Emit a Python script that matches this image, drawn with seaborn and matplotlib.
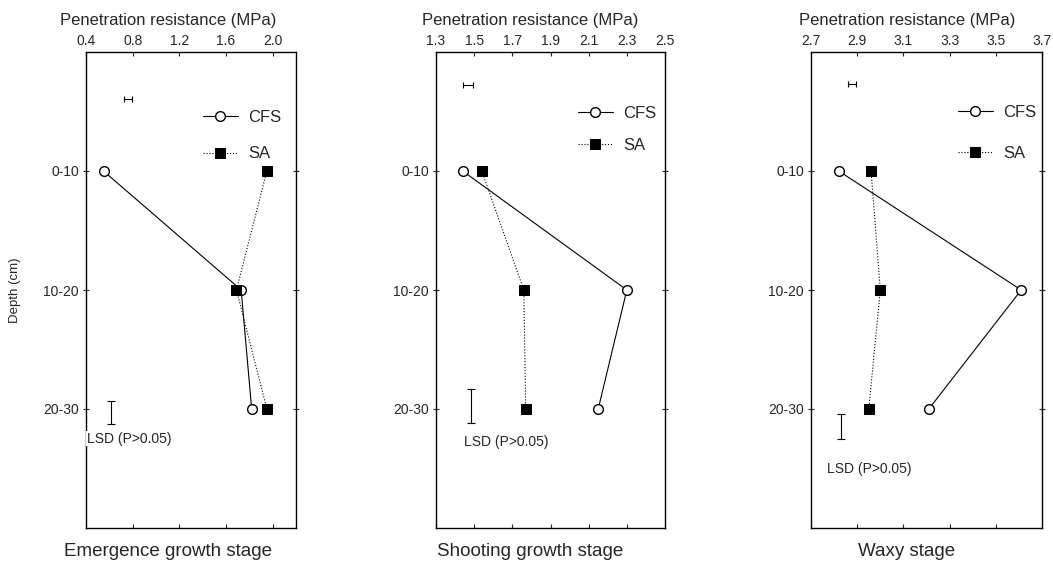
import numpy as np
import seaborn as sns
import matplotlib.pyplot as plt

# depth layers and growth stages
depths = ['0-10', '10-20', '20-30']
stages = ['Emergence growth stage', 'Shooting growth stage', 'Waxy stage']

# penetration resistance (MPa) per depth
cfs_emergence = [0.55, 1.73, 1.82]
sa_emergence = [1.95, 1.69, 1.95]
cfs_shooting = [1.44, 2.30, 2.15]
sa_shooting = [1.54, 1.76, 1.77]
cfs_waxy = [2.82, 3.61, 3.21]
sa_waxy = [2.96, 3.00, 2.95]

# horizontal bar near the top: centre and half width
top_bar_center = [0.76, 1.468, 2.876]
top_bar_half = [0.034, 0.026, 0.017]
# LSD bar: x position and half height (in depth units)
lsd_x = [0.615, 1.483, 2.829]
lsd_center = [3.03, 2.975, 3.147]
lsd_half = [0.10, 0.143, 0.105]

# axis ticks
xticks = [np.arange(0.4, 2.01, 0.4), np.arange(1.3, 2.51, 0.2), np.arange(2.7, 3.71, 0.2)]
xlims = [(0.4, 2.2), (1.3, 2.5), (2.7, 3.7)]

cfs = [cfs_emergence, cfs_shooting, cfs_waxy]
sa = [sa_emergence, sa_shooting, sa_waxy]

sns.set_theme(style='white')
plt.rcParams['font.family'] = ['Liberation Sans', 'DejaVu Sans']

fig = plt.figure(figsize=(10.53, 5.61), dpi=100)
W, H = 1053, 561
boxes = [(86, 296), (436, 665), (811, 1042)]
top_px, bot_px = 52, 528
title_cx = [168, 530, 907]
top_bar_y = [0.395, 0.277, 0.269]
lsd_text = [(0.41, 3.25), (1.447, 3.28), (2.769, 3.50)]
leg_anchor = [(0.557, 0.878), (0.62, 0.886), (0.636, 0.888)]
leg_spacing = [1.28, 0.98, 1.55]

ypos = np.arange(1, len(depths) + 1)

for i in range(3):
    l, r = boxes[i]
    ax = fig.add_axes([l / W, 1 - bot_px / H, (r - l) / W, (bot_px - top_px) / H])

    sns.lineplot(x=cfs[i], y=ypos, sort=False, estimator=None, ax=ax, color='black',
                 linewidth=0.8, marker='o', markersize=7, markerfacecolor='white',
                 markeredgecolor='black', markeredgewidth=1.0, label='CFS')
    sns.lineplot(x=sa[i], y=ypos, sort=False, estimator=None, ax=ax, color='black',
                 linewidth=0.8, linestyle=':', marker='s', markersize=7, markerfacecolor='black',
                 markeredgecolor='black', label='SA')

    ax.errorbar(top_bar_center[i], top_bar_y[i], xerr=top_bar_half[i], fmt='none',
                ecolor='black', elinewidth=0.8, capsize=2.5, capthick=0.8)
    ax.errorbar(lsd_x[i], lsd_center[i], yerr=lsd_half[i], fmt='none',
                ecolor='black', elinewidth=0.8, capsize=3, capthick=0.8)
    ax.text(lsd_text[i][0], lsd_text[i][1], 'LSD (P>0.05)', fontsize=10, ha='left', va='center',
            bbox=dict(facecolor='white', edgecolor='none', pad=0.5), zorder=5)

    ax.set_xlim(*xlims[i])
    ax.set_ylim(4, 0)
    ax.set_xticks(xticks[i])
    ax.set_xticklabels([f'{v:.1f}' for v in xticks[i]])
    ax.set_yticks(ypos)
    ax.set_yticklabels(depths)
    ax.xaxis.tick_top()
    ax.tick_params(axis='x', top=True, bottom=True, labeltop=True, labelbottom=False,
                   direction='in', length=3, width=0.8, labelsize=10, pad=3)
    ax.tick_params(axis='y', left=True, right=True, direction='inout', length=4, width=0.8,
                   labelsize=10, pad=3)
    for s in ax.spines.values():
        s.set_color('black')
        s.set_linewidth(1.0)
    ax.set_xlabel('')
    ax.set_ylabel('')

    leg = ax.legend(loc='upper left', bbox_to_anchor=leg_anchor[i], frameon=False,
                    fontsize=12, handlelength=2.1, handletextpad=0.6,
                    labelspacing=leg_spacing[i], borderpad=0, borderaxespad=0)

    cx = (title_cx[i] - l) / (r - l)
    ax.text(cx, 1 + 32 / (bot_px - top_px), 'Penetration resistance (MPa)', transform=ax.transAxes,
            ha='center', va='center', fontsize=12)
    ax.text(cx, -(552 - bot_px) / (bot_px - top_px), stages[i], transform=ax.transAxes,
            ha='center', va='center', fontsize=13.5)

fig.text(15 / W, 1 - 290 / H, 'Depth (cm)', rotation=90, ha='center', va='center', fontsize=9.5)

fig.savefig('out.png', dpi=100)
